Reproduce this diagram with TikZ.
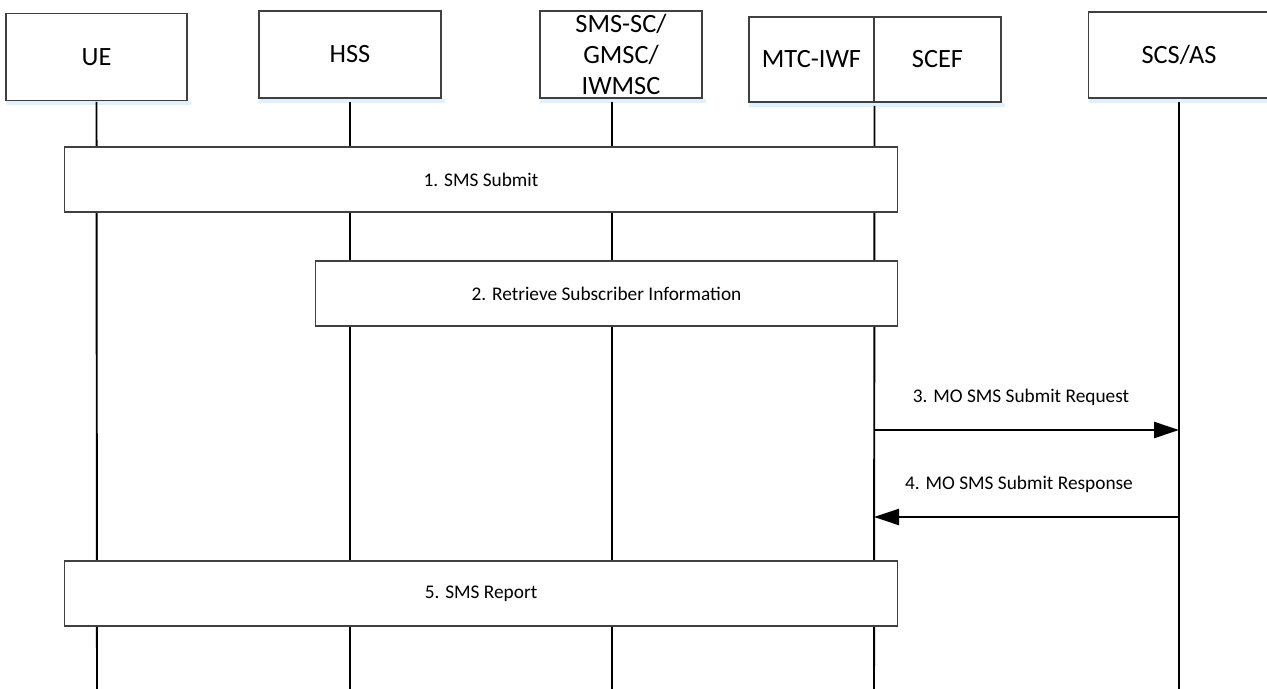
\documentclass[tikz,border=0pt]{standalone}
\usepackage{fontspec}
\setmainfont{Carlito}
\usetikzlibrary{arrows.meta}

\begin{document}
\begin{tikzpicture}[
            x=0.02cm, y=-0.02cm,
            entity/.style={rectangle, draw=black!75, line width=0.6pt, fill=white, minimum height=1.74cm, align=center, font=\fontsize{15}{17.8}\selectfont, inner sep=0pt},
            stepbox/.style={rectangle, draw=black!75, line width=0.6pt, fill=white, minimum height=1.3cm, font=\fontsize{11}{13}\selectfont, inner sep=0pt},
            life/.style={line width=1.1pt},
            msg/.style={line width=1.4pt, -{Triangle[length=0.5cm, width=0.32cm]}},
            msglabel/.style={font=\fontsize{11}{13}\selectfont}
        ]
            \useasboundingbox (0,0) rectangle (1267,689);

            % Entities
            \node[entity, minimum width=3.62cm] (ue) at (96.5,57) {UE};
            \node[entity, minimum width=3.64cm] (hss) at (350,54.5) {HSS};
            \node[entity, minimum width=3.24cm] (smsc) at (621,54.5) {SMS-SC/\\GMSC/\\IWMSC};
            \node[entity, minimum width=2.5cm, minimum height=1.7cm] (mtc) at (811.5,59.5) {MTC-IWF};
            \node[entity, minimum width=2.54cm, minimum height=1.7cm] (scef) at (937.5,59.5) {SCEF};
            \node[entity, minimum width=3.64cm, minimum height=1.72cm] (scs) at (1179,55) {SCS/AS};

            % Shadows
            \foreach \n in {ue,hss,smsc,mtc,scef,scs} {
                \fill[blue!50!cyan!12] ([xshift=0.02cm]\n.south west) rectangle ([xshift=0.06cm,yshift=-0.08cm]\n.south east);
            }

            % Lifelines
            \coordinate (ueEnd) at (97,689);
            \coordinate (hssEnd) at (350,689);
            \coordinate (smscEnd) at (612,689);
            \coordinate (scefEnd) at (874,689);
            \coordinate (scsEnd) at (1179,689);
            \draw[life] (ue.south |- 0,102) -- (ueEnd);
            \draw[life] (hss.south |- 0,102) -- (hssEnd);
            \draw[life] (612,102) -- (smscEnd);
            \draw[life] (mtc.south east |- 0,106) -- (scefEnd);
            \draw[life] (scs.south |- 0,102) -- (scsEnd);

            % Steps
            \node[stepbox, minimum width=16.68cm] (s1) at (481,179.5) {1. SMS Submit};
            \node[stepbox, minimum width=11.66cm] (s2) at (606.5,293.5) {2. Retrieve Subscriber Information};
            \node[stepbox, minimum width=16.68cm] (s5) at (481,593.5) {5. SMS Report};

            % Messages
            \coordinate (m3a) at (874,430);
            \coordinate (m3b) at (1179,430);
            \coordinate (m4a) at (1179,517);
            \coordinate (m4b) at (874,517);
            \draw[msg] (m3a) -- (m3b);
            \node[msglabel] (l3) at (1021,397) {3. MO SMS Submit Request};
            \draw[msg] (m4a) -- (m4b);
            \node[msglabel] (l4) at (1019,484) {4. MO SMS Submit Response};
        \end{tikzpicture}
\end{document}
